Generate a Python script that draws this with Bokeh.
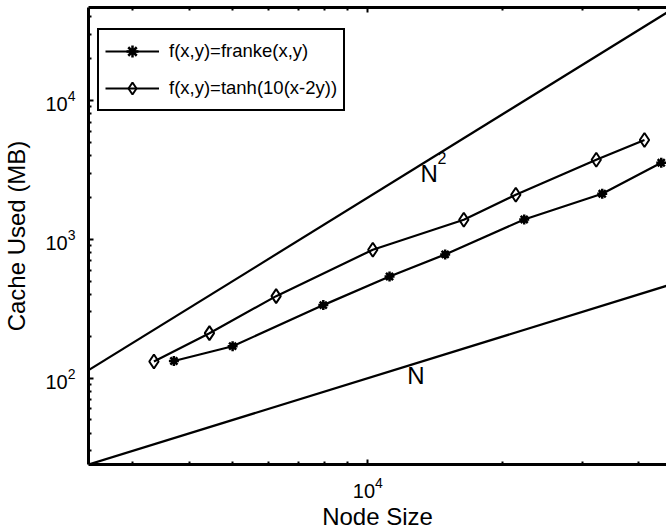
from bokeh.plotting import figure
from bokeh.models import Range1d, LogAxis, FixedTicker, Legend, LegendItem
from bokeh.core.properties import value
from bokeh.embed import file_html
from bokeh.resources import INLINE

# ---- data ----
franke_nodes = [3700, 5000, 7960, 11180, 14870, 22300, 33270, 45030]
franke_cache = [133, 170, 336, 540, 779, 1391, 2130, 3564]
tanh_nodes = [3340, 4440, 6250, 10260, 16360, 21360, 32270, 41320]
tanh_cache = [132, 211, 390, 842, 1384, 2096, 3746, 5201]
ref_nodes = [2000, 60000]
ref_n2_cache = [80, 72000]
ref_n_cache = [20, 600]
series_labels = ["f(x,y)=franke(x,y)", "f(x,y)=tanh(10(x-2y))"]
x_major_ticks = [10000]
x_minor_ticks = [3000, 4000, 5000, 6000, 7000, 8000, 9000, 20000, 30000, 40000]
y_major_ticks = [100, 1000, 10000]
y_minor_ticks = [30, 40, 50, 60, 70, 80, 90, 200, 300, 400, 500, 600, 700, 800, 900,
                 2000, 3000, 4000, 5000, 6000, 7000, 8000, 9000, 20000, 30000, 40000]

FONT = "Liberation Sans"

p = figure(width=666, height=532, x_axis_type="log", y_axis_type="log",
           x_range=Range1d(2388, 46260), y_range=Range1d(23.9, 46770),
           output_backend="svg", toolbar_location=None,
           min_border_left=88, min_border_right=0, min_border_top=7, min_border_bottom=68)
p.outline_line_color = None
p.xgrid.visible = False
p.ygrid.visible = False
p.background_fill_color = "white"
p.border_fill_color = "white"

xt = FixedTicker(ticks=x_major_ticks, minor_ticks=x_minor_ticks)
yt = FixedTicker(ticks=y_major_ticks, minor_ticks=y_minor_ticks)


def style(ax):
    ax.axis_line_width = 3
    ax.axis_line_color = "black"
    ax.major_tick_in = 5
    ax.major_tick_out = 0
    ax.minor_tick_in = 3
    ax.minor_tick_out = 0
    ax.major_tick_line_width = 2
    ax.minor_tick_line_width = 2
    ax.major_label_text_font = FONT
    ax.major_label_text_font_size = "20px"
    ax.major_label_text_color = "black"
    ax.axis_label_text_font = FONT
    ax.axis_label_text_font_size = "24px"
    ax.axis_label_text_font_style = "normal"
    ax.axis_label_text_color = "black"


xa = p.xaxis[0]
xa.ticker = xt
style(xa)
xa.axis_label = "Node Size"
xa.major_label_standoff = 12
xa.axis_label_standoff = 2

ya = p.yaxis[0]
ya.ticker = yt
style(ya)
ya.axis_label = "Cache Used (MB)"
ya.major_label_standoff = 13
ya.axis_label_standoff = 12

top = LogAxis(ticker=xt)
style(top)
top.major_label_text_font_size = "1px"
top.major_label_text_color = None
top.major_label_standoff = 0
p.add_layout(top, "above")

# reference lines
p.line(ref_nodes, ref_n2_cache, line_color="black", line_width=2.2)
p.line(ref_nodes, ref_n_cache, line_color="black", line_width=2.2)

l1 = p.line(franke_nodes, franke_cache, line_color="black", line_width=2.2)
m1 = p.scatter(franke_nodes, franke_cache, marker="asterisk", size=10,
               line_color="black", line_width=2.5)
l2 = p.line(tanh_nodes, tanh_cache, line_color="black", line_width=2.2)
m2 = p.scatter(tanh_nodes, tanh_cache, marker="diamond", size=14,
               line_color="black", fill_color=None, line_width=2)

p.text(x=[12240], y=[104.6], text=["N"], text_font=value(FONT), text_font_size="24px",
       text_align="left", text_baseline="alphabetic", text_color="black")
p.text(x=[13106], y=[2984], text=["N"], text_font=value(FONT), text_font_size="24px",
       text_align="left", text_baseline="alphabetic", text_color="black")
p.text(x=[14296], y=[3828], text=["2"], text_font=value(FONT), text_font_size="16px",
       text_align="left", text_baseline="alphabetic", text_color="black")

legend = Legend(items=[LegendItem(label=series_labels[0], renderers=[l1, m1]),
                       LegendItem(label=series_labels[1], renderers=[l2, m2])],
                location=(9, 353))
legend.label_text_font = FONT
legend.label_text_font_size = "18.5px"
legend.label_text_color = "black"
legend.glyph_width = 54
legend.glyph_height = 30
legend.label_height = 30
legend.label_standoff = 10
legend.padding = 6
legend.spacing = 7
legend.margin = 0
legend.border_line_color = "black"
legend.border_line_alpha = 1.0
legend.border_line_width = 2.5
legend.background_fill_color = "white"
legend.background_fill_alpha = 1
p.add_layout(legend, "center")

open("out.html", "w").write(file_html(p, INLINE))
